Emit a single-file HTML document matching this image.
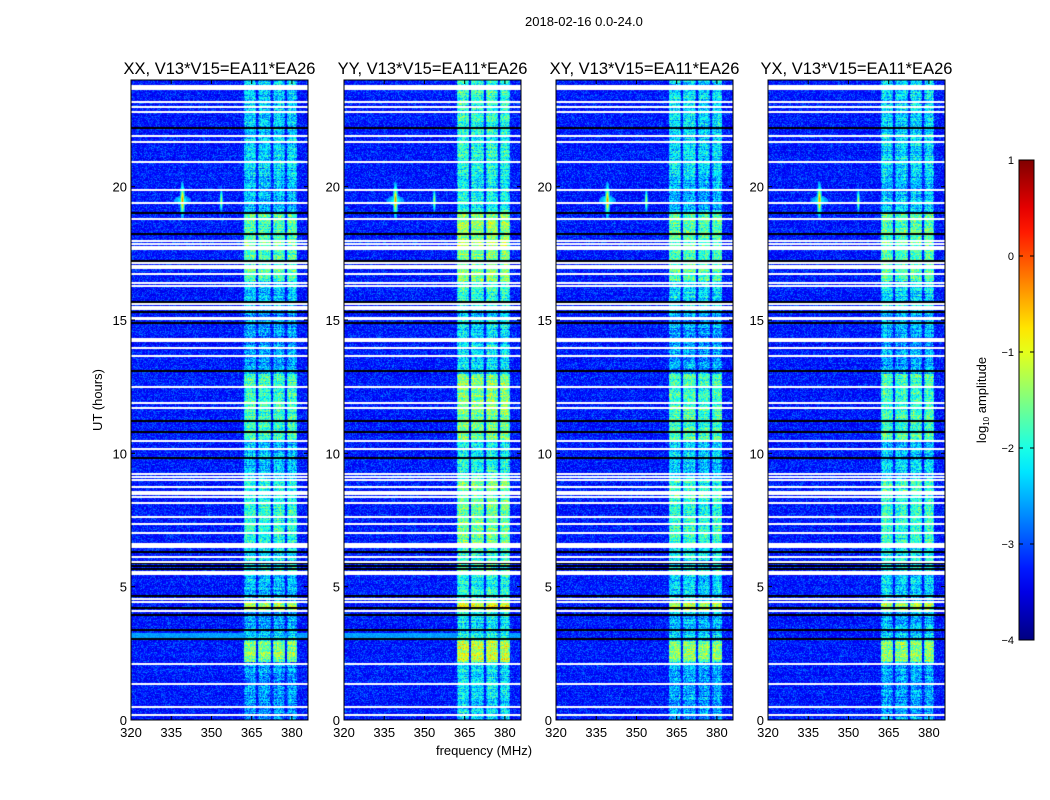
<!DOCTYPE html>
<html><head><meta charset="utf-8">
<style>
body{margin:0;background:#fff;width:1050px;height:800px;overflow:hidden;font-family:"Liberation Sans","DejaVu Sans",sans-serif;}
#wrap{position:relative;width:1050px;height:800px;}
.t{position:absolute;font-size:13px;color:#000;white-space:nowrap;}
canvas{position:absolute;}
</style></head>
<body>
<div id="wrap">
<div class="t" style="left:525px;top:14px;">2018-02-16 0.0-24.0</div>
<svg id="svg" width="1050" height="800" style="position:absolute;left:0;top:0"></svg>
</div>
<script>
// ---- data ----
const panelTitles = ["XX, V13*V15=EA11*EA26","YY, V13*V15=EA11*EA26","XY, V13*V15=EA11*EA26","YX, V13*V15=EA11*EA26"];
const panelLefts = [131,344,556,768];
const polBoost = [0, 0.35, 0.05, 0.05];
const xTicks = [320,335,350,365,380];
const yTicks = [0,5,10,15,20];
const cbTicks = [1,0,-1,-2,-3,-4];
const subbands = [[361.8,366.4],[367.0,372.0],[372.6,377.2],[377.8,381.8]];
// band level segments [startHour, endHour, log10 amplitude]
const bandLevels = [[20.5,24,-2.3],[19,20.5,-2.45],[16.5,19,-1.75],[15.5,16.5,-2.3],[13,15.5,-2.6],[10.5,13,-1.85],[9,10.5,-2.4],[6.5,9,-1.95],[5.5,6.5,-2.2],[4.5,5.5,-2.4],[4.15,4.45,-1.3],[3.3,4.15,-2.5],[2.2,3.0,-1.5],[0,2.2,-2.6]];
// full-width RFI rows [startHour, endHour, level]
const rfiRows = [[3.1,3.3,-2.6]];
// point RFI sources [freq MHz, hour, peak level]
const rfiSources = [[339,19.5,-0.3],[353.5,19.5,-1.2]];
// flagged rows (white), thin
const whiteRows = [23.17,22.99,22.8,21.9,21.67,20.92,19.87,19.39,18.79,17.96,17.85,17.74,17.66,17.14,17.02,16.95,16.72,16.39,16.27,15.6,15.49,15.41,13.95,13.65,12.49,11.89,11.7,10.46,10.16,9.22,9.11,9.0,8.74,8.55,8.47,8.36,8.14,7.61,7.35,7.01,6.11,5.92,4.54,4.42,4.09,2.1,1.35,0.49,0.19];
// flagged blocks (white), thick [start,end]
const whiteBlocks = [[23.62,23.81],[15.0,15.11],[14.17,14.32],[6.45,6.64],[5.44,5.59]];
// dark rows
const blackRows = [22.2,19.01,18.22,17.21,15.67,15.3,14.89,13.09,11.21,10.8,9.82,6.3,5.89,5.77,5.66,4.65,4.2,3.94,3.37,3.04];

// ---- scales ----
const PW=177, PT=80, PH=640, FMIN=320, FMAX=386, HMAX=24;
const xs = f => (f-FMIN)/(FMAX-FMIN)*PW;
const ys = h => PH - h/HMAX*PH;
function jet(v){let t=(v+4)/5;t=Math.max(0,Math.min(1,t));
 const c=x=>Math.max(0,Math.min(1,x));
 return [c(1.5-Math.abs(4*t-3))*255,c(1.5-Math.abs(4*t-2))*255,c(1.5-Math.abs(4*t-1))*255];}
function hash(a,b,s){let h=(a*374761393+b*668265263+s*1274126177)|0;h=(h^(h>>>13))*1274126177|0;h=h^(h>>>16);return ((h>>>0)%10000)/10000;}
function bandLevel(h){for(const s of bandLevels){if(h>=s[0]&&h<s[1])return s[2];}return -2.3;}

const NS="http://www.w3.org/2000/svg";const svg=document.getElementById('svg');
function se(tag,attrs,parent){const e=document.createElementNS(NS,tag);for(const k in attrs)e.setAttribute(k,attrs[k]);(parent||svg).appendChild(e);return e;}
const wrap=document.getElementById('wrap');

panelLefts.forEach((L,p)=>{
 const cv=document.createElement('canvas');cv.width=PW;cv.height=PH;
 cv.style.left=L+'px';cv.style.top=PT+'px';
 
 
 wrap.insertBefore(cv,svg);
 const ctx=cv.getContext('2d');const img=ctx.createImageData(PW,PH);
 for(let py=0;py<PH;py++){
  const h=(PH-py)/PH*HMAX;const bl=bandLevel(h)+polBoost[p];
  const rowN=hash(py,7,p);
  let rfiRow=null;for(const r of rfiRows){if(h>=r[0]&&h<r[1])rfiRow=r[2];}
  for(let px=0;px<PW;px++){
   const f=FMIN+px/PW*(FMAX-FMIN);
   const n=hash(px,py,p+1);
   let v=-3.55+0.7*n*n+0.15*rowN;
   if(rfiRow!==null&&p<2)v=Math.max(v,rfiRow+0.3*(n-0.5));
   for(const sb of subbands){if(f>=sb[0]&&f<sb[1]){const colN=hash(px,3,p);const edge=Math.min(f-sb[0],sb[1]-f)<0.4?-0.3:0;
     v=bl+1.1*(n-0.5)+0.5*(rowN-0.5)+0.3*(colN-0.5)+edge;}}
   for(const s of rfiSources){const dx=(f-s[0])/0.5,dy=(h-s[1])/0.3;const w=Math.exp(-(dx*dx)*0.8-(dy*dy)*0.5);
     const cross=Math.exp(-Math.abs(dx)*0.35-dy*dy*4)*0.6+Math.exp(-dx*dx*3-Math.abs(dy)*1.2)*0.6;
     const amp=Math.max(w,cross*0.8);if(amp>0.05)v=Math.max(v,s[2]-(1-amp)*2.5+0.3*(n-0.5));}
   const c=jet(v);const i=(py*PW+px)*4;img.data[i]=c[0];img.data[i+1]=c[1];img.data[i+2]=c[2];img.data[i+3]=255;
  }
 }
 ctx.putImageData(img,0,0);
 ctx.fillStyle='#000';blackRows.forEach(h=>{ctx.fillRect(0,Math.round(ys(h)-1),PW,2);});
 ctx.fillStyle='#fff';whiteRows.forEach(h=>{ctx.fillRect(0,Math.round(ys(h)-1),PW,2);});
 whiteBlocks.forEach(b=>{const y0=Math.round(ys(b[1]));ctx.fillRect(0,y0,PW,Math.round(ys(b[0]))-y0);});

 const g=se('g',{});
 
 
 const fr=se('rect',{x:L,y:PT,width:PW,height:PH,fill:'none',stroke:'#000','stroke-width':1},g);
 
 
 const tt=se('text',{x:L+PW/2,y:74,'text-anchor':'middle','font-size':16.5,'font-family':'Liberation Sans, sans-serif'},g);tt.textContent=panelTitles[p];
 
 
 xTicks.forEach(t=>{const x=L+xs(t);
  se('line',{x1:x,x2:x,y1:PT+PH,y2:PT+PH-4,stroke:'#000'},g);se('line',{x1:x,x2:x,y1:PT,y2:PT+4,stroke:'#000'},g);
  const tx=se('text',{x:x,y:737,'text-anchor':'middle','font-size':13,'font-family':'Liberation Sans, sans-serif'},g);tx.textContent=t;
  
  });
 yTicks.forEach(t=>{const y=PT+ys(t);
  se('line',{x1:L,x2:L+4,y1:y,y2:y,stroke:'#000'},g);se('line',{x1:L+PW,x2:L+PW-4,y1:y,y2:y,stroke:'#000'},g);
  const ty=se('text',{x:L-4,y:y+5,'text-anchor':'end','font-size':13,'font-family':'Liberation Sans, sans-serif'},g);ty.textContent=t;
  
  });
});
const xl=se('text',{x:484,y:755,'text-anchor':'middle','font-size':13,'font-family':'Liberation Sans, sans-serif'});xl.textContent='frequency (MHz)';


const yl=se('text',{x:0,y:0,transform:'translate(102,400) rotate(-90)','text-anchor':'middle','font-size':13,'font-family':'Liberation Sans, sans-serif'});yl.textContent='UT (hours)';



// colorbar
const CBX=1019,CBY=160,CBW=15,CBH=480;
const defs=se('defs',{});const lg=se('linearGradient',{id:'jetg',x1:0,y1:1,x2:0,y2:0},defs);
for(let i=0;i<=20;i++){const v=-4+i*5/20;const c=jet(v);se('stop',{offset:(i/20),'stop-color':`rgb(${c.map(Math.round).join(',')})`},lg);}
const cb=se('rect',{x:CBX,y:CBY,width:CBW,height:CBH,fill:'url(#jetg)',stroke:'#000','stroke-width':1});


cbTicks.forEach(t=>{const y=CBY+(1-t)/5*CBH;
 se('line',{x1:CBX,x2:CBX+4,y1:y,y2:y,stroke:'#000'});se('line',{x1:CBX+CBW,x2:CBX+CBW-4,y1:y,y2:y,stroke:'#000'});
 const tx=se('text',{x:CBX-5,y:y+4,'text-anchor':'end','font-size':11,'font-family':'Liberation Sans, sans-serif'});tx.textContent=(t<0?'\u2212'+(-t):t);
 
 });
const cl=se('text',{x:0,y:0,transform:'translate(986,400) rotate(-90)','text-anchor':'middle','font-size':13,'font-family':'Liberation Sans, sans-serif'});
cl.innerHTML='log<tspan font-size="8" dy="3">10</tspan><tspan dy="-3"> amplitude</tspan>';


</script>
</body></html>
